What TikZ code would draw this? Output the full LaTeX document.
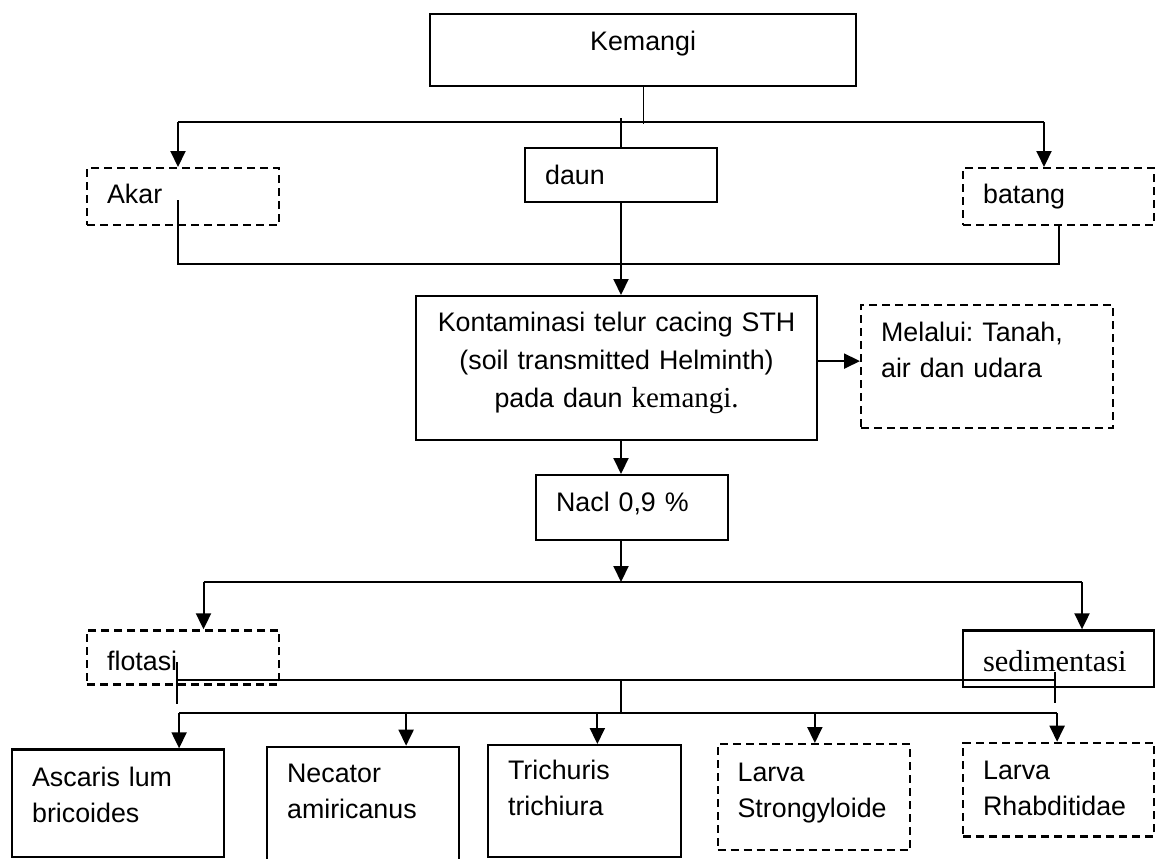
\documentclass[tikz,border=0pt]{standalone}
\usepackage{fontspec}
\setmainfont{Liberation Sans}
\newfontfamily\timesfont{Liberation Serif}
\usetikzlibrary{arrows.meta}
\frenchspacing

\begin{document}
\begin{tikzpicture}[x=0.5pt,y=-0.5pt,
  box/.style={draw,line width=1.1pt,anchor=north west,inner xsep=10pt,inner ysep=0pt,align=left,
    font=\fontsize{13.4pt}{18pt}\selectfont},
  dbox/.style={box,dash pattern=on 4pt off 2.5pt},
  arr/.style={-{Triangle[length=8pt,width=7.5pt]},line width=1pt},
  bus/.style={line width=1pt},
  fine/.style={line width=0.6pt}]
   \useasboundingbox (0,0) rectangle (1160,858);

   \node[box,align=center,text width=193pt,text height=18.15pt,text depth=17.85pt] (kemangi) at (429,13) {Kemangi};
   \node[dbox,text width=76pt,text height=17.65pt,text depth=10.85pt] (akar) at (86,167) {Akar};
   \node[box,text width=76pt,text height=18.15pt,text depth=8.85pt] (daun) at (524,147) {daun};
   \node[dbox,text width=75.5pt,text height=17.65pt,text depth=10.85pt] (batang) at (962,167) {batang};
   \node[box,align=center,inner xsep=5pt,text width=190.5pt,text height=17.85pt,text depth=54.15pt,
     font=\fontsize{13.4pt}{18.8pt}\selectfont] (kontam) at (415,295)
     {Kontaminasi telur cacing STH\\(soil transmitted Helminth)\\pada daun {\timesfont\fontsize{14.5pt}{18.8pt}\selectfont kemangi.}};
   \node[dbox,text width=106pt,text height=18pt,text depth=43.5pt] (melalui) at (860,304) {Melalui: Tanah,\\air dan udara};
   \node[box,text width=76pt,text height=18pt,text depth=14.5pt] (nacl) at (535,474) {Nacl 0,9 \%};
   \node[dbox,text width=76pt,text height=20pt,text depth=7pt] (flotasi) at (86,629.3) {flotasi};
   \node[box,text width=75.5pt,text height=20.7pt,text depth=7.5pt,
     font=\timesfont\fontsize{15.2pt}{18pt}\selectfont] (sedim) at (962,629.3) {sedimentasi};

   \node[box,text width=86pt,text height=18.3pt,text depth=35.5pt] (ascaris) at (11,748.3) {Ascaris lum\\bricoides};
   \node[box,text width=76pt,text height=18pt,text depth=60pt] (necator) at (266,745.7) {Necator\\amiricanus};
   \node[box,text width=76.25pt,text height=17.2pt,text depth=38.8pt] (trichuris) at (487,744) {Trichuris\\trichiura};
   \node[dbox,text width=76.25pt,text height=18.5pt,text depth=34.5pt] (larvas) at (716.5,743) {Larva\\Strongyloide};
   \node[dbox,text width=75.5pt,text height=18.3pt,text depth=28.5pt] (larvar) at (962,741.7) {Larva\\Rhabditidae};

   \coordinate (k1) at (621,118);
   \coordinate (busL) at (178,122);
   \coordinate (busR) at (1044,122);
   \coordinate (akarIn) at (178,200);
   \coordinate (join) at (621,264);
   \coordinate (split) at (621,582);
   \coordinate (bus2L) at (203.5,582);
   \coordinate (bus2R) at (1082,582);
   \coordinate (flotIn) at (177,662);
   \coordinate (sedIn) at (1055,672);
   \coordinate (mid) at (621,680);
   \coordinate (bus3) at (621,713);

   \draw[fine] (kemangi.south) -- ++(0,37);
   \draw[bus] (busL) -- (busR);
   \draw[arr] (busL) -- (busL |- akar.north);
   \draw[arr] (busR) -- (busR |- batang.north);
   \draw[bus] (k1) -- (k1 |- daun.north);
   \draw[bus] (akarIn) |- (join) -| (batang.south);
   \draw[arr] (daun.south -| k1) -- (kontam.north -| k1);
   \draw[arr] ([yshift=3.5pt]kontam.east) -- ([yshift=3.5pt]kontam.east -| melalui.west);
   \draw[arr] (kontam.south -| k1) -- (nacl.north -| k1);
   \draw[arr] (nacl.south -| k1) -- (split);
   \draw[bus] (bus2L) -- (bus2R);
   \draw[arr] (bus2L) -- (bus2L |- flotasi.north);
   \draw[arr] (bus2R) -- (bus2R |- sedim.north);

   \draw[fine] (flotIn) -- ++(0,42);
   \draw[fine] (sedIn) -- ++(0,31);
   \draw[bus] (mid -| flotIn) -- (mid -| sedIn);
   \draw[fine] (mid) -- (bus3);
   \foreach \b/\dx in {ascaris/61,necator/43,trichuris/13,larvas/1,larvar/-1.5}
   {
     \path (\b.north) ++(\dx,0) coordinate (\b-in);
     \draw[arr] (bus3 -| \b-in) -- (\b-in);
   }
   \draw[bus] (bus3 -| ascaris-in) -- (bus3 -| larvar-in);
\end{tikzpicture}
\end{document}
